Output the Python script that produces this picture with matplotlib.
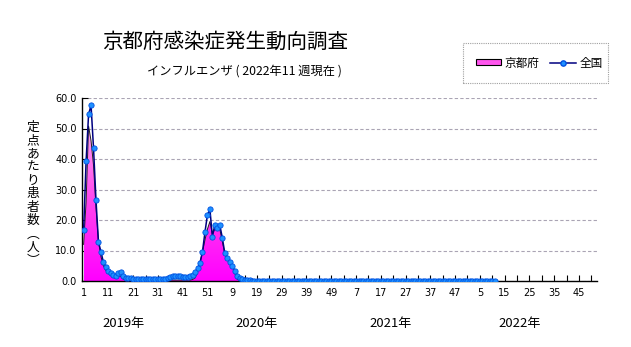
import numpy as np
import matplotlib
matplotlib.use("Agg")
import matplotlib.pyplot as plt
from matplotlib.colors import LinearSegmentedColormap
from matplotlib.lines import Line2D
from matplotlib.patches import Patch, Rectangle
from matplotlib.transforms import blended_transform_factory

plt.rcParams["font.family"] = ["Noto Sans CJK JP", "DejaVu Sans"]

# weekly series, 2019 week 1 .. 2022 week 11 (167 weeks)
zenkoku = [
    16.6, 39.2, 54.6, 57.6, 43.6, 26.5, 12.8, 9.6, 6.1, 4.5,
    3.2, 2.6, 1.9, 1.8, 2.7, 2.9, 1.6, 1.1, 1.0, 0.9,
    0.8, 0.7, 0.7, 0.6, 0.6, 0.5, 0.5, 0.5, 0.5, 0.5,
    0.5, 0.5, 0.5, 0.6, 0.9, 1.4, 1.6, 1.7, 1.6, 1.5,
    1.4, 1.3, 1.3, 1.5, 1.9, 3.0, 4.1, 6.0, 9.6, 16.0,
    21.7, 23.5, 14.5, 18.5, 17.5, 18.3, 14.2, 9.2, 7.5, 6.2,
    5.0, 3.3, 1.8, 1.0, 0.6, 0.4, 0.3, 0.2, 0.1, 0.1,
    0.1, 0.1, 0.1, 0.1, 0.1, 0.1, 0.1, 0.1, 0.1, 0.1,
    0.1, 0.1, 0.1, 0.1, 0.1, 0.1, 0.1, 0.1, 0.1, 0.1,
    0.1, 0.1, 0.1, 0.1, 0.1, 0.1, 0.1, 0.1, 0.1, 0.1,
    0.1, 0.1, 0.1, 0.1, 0.1, 0.1, 0.1, 0.1, 0.1, 0.1,
    0.1, 0.1, 0.1, 0.1, 0.1, 0.1, 0.1, 0.1, 0.1, 0.1,
    0.1, 0.1, 0.1, 0.1, 0.1, 0.1, 0.1, 0.1, 0.1, 0.1,
    0.1, 0.1, 0.1, 0.1, 0.1, 0.1, 0.1, 0.1, 0.1, 0.1,
    0.1, 0.1, 0.1, 0.1, 0.1, 0.1, 0.1, 0.1, 0.1, 0.1,
    0.1, 0.1, 0.1, 0.1, 0.1, 0.1, 0.1, 0.1, 0.1, 0.1,
    0.1, 0.1, 0.1, 0.1, 0.1, 0.1, 0.1,
]
kyoto = [
    12.0, 26.0, 50.8, 46.0, 38.0, 24.0, 13.0, 8.0, 5.0, 3.5,
    2.5, 1.8, 1.2, 1.0, 1.8, 1.5, 0.6, 0.4, 0.3, 0.3,
    0.2, 0.2, 0.2, 0.2, 0.2, 0.2, 0.2, 0.2, 0.2, 0.2,
    0.2, 0.2, 0.2, 0.2, 0.3, 0.3, 0.3, 0.3, 0.3, 0.3,
    0.3, 0.3, 0.3, 0.3, 0.5, 1.0, 3.0, 6.0, 9.5, 13.5,
    17.0, 19.5, 15.5, 17.0, 18.4, 17.0, 13.0, 9.0, 7.0, 6.2,
    5.6, 2.6, 0.6, 0.2, 0.0, 0.0, 0.0, 0.0, 0.0, 0.0,
    0.0, 0.0, 0.0, 0.0, 0.0, 0.0, 0.0, 0.0, 0.0, 0.0,
    0.0, 0.0, 0.0, 0.0, 0.0, 0.0, 0.0, 0.0, 0.0, 0.0,
    0.0, 0.0, 0.0, 0.0, 0.0, 0.0, 0.0, 0.0, 0.0, 0.0,
    0.0, 0.0, 0.0, 0.0, 0.0, 0.0, 0.0, 0.0, 0.0, 0.0,
    0.0, 0.0, 0.0, 0.0, 0.0, 0.0, 0.0, 0.0, 0.0, 0.0,
    0.0, 0.0, 0.0, 0.0, 0.0, 0.0, 0.0, 0.0, 0.0, 0.0,
    0.0, 0.0, 0.0, 0.0, 0.0, 0.0, 0.0, 0.0, 0.0, 0.0,
    0.0, 0.0, 0.0, 0.0, 0.0, 0.0, 0.0, 0.0, 0.0, 0.0,
    0.0, 0.0, 0.0, 0.0, 0.0, 0.0, 0.0, 0.0, 0.0, 0.0,
    0.0, 0.0, 0.0, 0.0, 0.0, 0.0, 0.0,
]
week_labels = ["1", "11", "21", "31", "41", "51", "9", "19", "29", "39", "49",
               "7", "17", "27", "37", "47", "5", "15", "25", "35", "45"]
year_labels = ["2019年", "2020年", "2021年", "2022年"]
y_ticks = [0, 10, 20, 30, 40, 50, 60]
ylabel_chars = ["定", "点", "あ", "た", "り", "患", "者", "数", "︵", "人", "︶"]

weeks = np.arange(1, len(zenkoku) + 1)

fig = plt.figure(figsize=(6.31, 3.47), dpi=100)
ax = fig.add_axes([82 / 631, 1 - 281 / 347, 515 / 631, 183 / 347])

# kyoto area with vertical pink gradient
poly = ax.fill_between(weeks, kyoto, 0, facecolor="none", edgecolor="none", zorder=2)
cmap = LinearSegmentedColormap.from_list("pk", ["#ff00ff", "#ff44ee", "#ffa8f0"])
grad = np.linspace(0, 1, 256).reshape(-1, 1)
im = ax.imshow(grad, cmap=cmap, extent=[1, len(kyoto), 0, 52], origin="lower",
               aspect="auto", zorder=2)
im.set_clip_path(poly.get_paths()[0], transform=ax.transData)
ax.plot(weeks, kyoto, color="#202020", lw=0.7, zorder=3)

ax.plot(weeks, zenkoku, color="#000080", lw=1.1, marker="o", markersize=3.8,
        markerfacecolor="#1e90ff", markeredgecolor="#0050e0", markeredgewidth=0.6,
        zorder=4)

ax.set_xlim(0.35, 208.3)
ax.set_ylim(0, 60)
ax.set_yticks(y_ticks)
ax.set_yticklabels([f"{v:.1f}" for v in y_ticks], family="DejaVu Sans", fontsize=7)
ax.set_xticks(np.arange(1, 202, 10))
ax.set_xticks(np.arange(6, 208, 10), minor=True)
ax.set_xticklabels(week_labels, family="DejaVu Sans", fontsize=7)
ax.tick_params(axis="both", which="both", direction="in", length=4, width=0.8)
ax.tick_params(axis="x", pad=5)
ax.tick_params(axis="y", pad=4)
ax.grid(axis="y", color="#aaa4b4", linestyle=(0, (3, 2)), lw=0.8)
ax.set_axisbelow(True)
for side in ["top", "right"]:
    ax.spines[side].set_visible(False)
for side in ["left", "bottom"]:
    ax.spines[side].set_linewidth(1.0)

fig.text(225 / 631, 1 - 42 / 347, "京都府感染症発生動向調査", fontsize=14.8,
         ha="center", va="center")
fig.text(244 / 631, 1 - 71 / 347, "インフルエンザ ( 2022年11 週現在 )", fontsize=8.8,
         ha="center", va="center")

# vertical y label, one character per row
for i, ch in enumerate(ylabel_chars):
    fig.text(33 / 631, 1 - (127 + i * 13.4) / 347, ch, fontsize=9.2,
             ha="center", va="center")

trans = blended_transform_factory(ax.transData, fig.transFigure)
for pos, lab in zip([17, 71, 125, 177], year_labels):
    ax.text(pos, 1 - 324 / 347, lab, transform=trans, fontsize=9.4, ha="center",
            va="center")

# legend box
fig.patches.append(Rectangle((463 / 631, 1 - 83 / 347), 145 / 631, 40 / 347,
                             transform=fig.transFigure, fill=False,
                             edgecolor="#a0a0a0", linestyle=(0, (1, 1)), lw=0.8))
handles = [
    Patch(facecolor="#ff55ee", edgecolor="black", lw=0.8),
    Line2D([], [], color="#000080", lw=1.1, marker="o", markersize=3.8,
           markerfacecolor="#1e90ff", markeredgecolor="#0050e0"),
]
fig.legend(handles, ["京都府", "全国"], loc="center", ncol=2, frameon=False,
           bbox_to_anchor=(539 / 631, 1 - 63 / 347), fontsize=8.4, handlelength=2.2,
           handleheight=0.45, handletextpad=0.3, columnspacing=0.9)

fig.savefig("out.png", dpi=100)
